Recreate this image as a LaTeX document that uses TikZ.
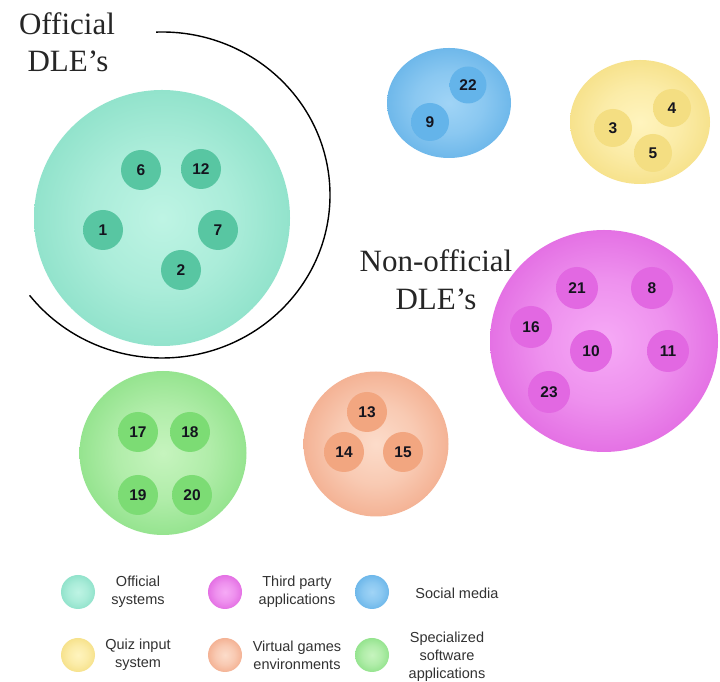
\documentclass[tikz,border=0pt]{standalone}
\usepackage{fontspec}
\setmainfont{Liberation Serif}
\setsansfont{Liberation Sans}
\usetikzlibrary{shapes.geometric}

% colours
\definecolor{tealC}{RGB}{190,244,228}
\definecolor{tealE}{RGB}{92,206,174}
\definecolor{tealSC}{RGB}{88,198,162}
\definecolor{tealSE}{RGB}{62,176,140}
\definecolor{blueC}{RGB}{160,212,246}
\definecolor{blueE}{RGB}{50,150,220}
\definecolor{blueSC}{RGB}{100,180,234}
\definecolor{blueSE}{RGB}{62,150,212}
\definecolor{yelC}{RGB}{255,244,190}
\definecolor{yelE}{RGB}{236,204,80}
\definecolor{yelSC}{RGB}{244,222,130}
\definecolor{yelSE}{RGB}{230,198,90}
\definecolor{magC}{RGB}{246,170,246}
\definecolor{magE}{RGB}{206,44,206}
\definecolor{magSC}{RGB}{226,104,226}
\definecolor{magSE}{RGB}{200,60,200}
\definecolor{orC}{RGB}{252,220,202}
\definecolor{orE}{RGB}{234,128,84}
\definecolor{orSC}{RGB}{242,166,128}
\definecolor{orSE}{RGB}{228,136,96}
\definecolor{grC}{RGB}{198,244,190}
\definecolor{grE}{RGB}{90,208,86}
\definecolor{grSC}{RGB}{124,220,116}
\definecolor{grSE}{RGB}{92,198,86}
\definecolor{numtext}{RGB}{20,20,30}
\definecolor{legtext}{RGB}{50,50,50}

\newcommand{\mkbigball}[3]{\pgfdeclareradialshading{#1}{\pgfpoint{0bp}{0bp}}{color(0bp)=(#2); color(14bp)=(#2!80!#3); color(36bp)=(#2!30!#3); color(46bp)=(#3); color(50bp)=(#3!92!black)}}
\newcommand{\mksmallball}[3]{\pgfdeclareradialshading{#1}{\pgfpoint{0bp}{0bp}}{color(0bp)=(#2); color(30bp)=(#2); color(46bp)=(#3); color(50bp)=(#3!85!white)}}
\mkbigball{tealbig}{tealC}{tealE}
\mksmallball{tealsmall}{tealSC}{tealSE}
\mkbigball{bluebig}{blueC}{blueE}
\mksmallball{bluesmall}{blueSC}{blueSE}
\mkbigball{yelbig}{yelC}{yelE}
\mksmallball{yelsmall}{yelSC}{yelSE}
\mkbigball{magbig}{magC}{magE}
\mksmallball{magsmall}{magSC}{magSE}
\mkbigball{orbig}{orC}{orE}
\mksmallball{orsmall}{orSC}{orSE}
\mkbigball{grbig}{grC}{grE}
\mksmallball{grsmall}{grSC}{grSE}

\tikzset{
  bigball/.style={ellipse, inner sep=0pt, shade, shading=#1},
  num/.style={circle, inner sep=0pt, minimum size=40pt, shade, shading=#1,
    font=\sffamily\bfseries\fontsize{15.5}{15.5}\selectfont, text=numtext},
  legball/.style={circle, inner sep=0pt, minimum size=34pt, shade, shading=#1},
  legtxt/.style={align=center, font=\sffamily\fontsize{14.5}{18}\selectfont, text=legtext},
  biglabel/.style={anchor=base, font=\fontsize{31}{37}\selectfont, text=black!85},
  grouparc/.style={line width=1.4pt, black}
}

\begin{document}
\begin{tikzpicture}[x=1pt,y=1pt]
\useasboundingbox (0,0) rectangle (720,682);
\fill[white] (0,0) rectangle (720,682);

% Official systems
\node[bigball=tealbig, minimum width=256pt, minimum height=256pt] (off) at (162,464) {};
\node[num=tealsmall] (n6) at (141,512) {6};
\node[num=tealsmall] (n12) at (201,513) {12};
\node[num=tealsmall] (n1) at (103,452) {1};
\node[num=tealsmall] (n7) at (218,452) {7};
\node[num=tealsmall] (n2) at (181,412) {2};

% Official DLE's arc and label
\coordinate (arcc) at (162,487);
\draw[grouparc] (arcc) ++(92:168 and 163) arc[start angle=92, end angle=-142, x radius=168, y radius=163];
\node[biglabel] (offl1) at (67,647) {Official};
\node[biglabel] (offl2) at (68,610) {DLE’s};

% Social media
\node[bigball=bluebig, minimum width=124pt, minimum height=110pt] (soc) at (449,579) {};
\node[num=bluesmall, minimum size=37pt] (n22) at (468,597) {22};
\node[num=bluesmall, minimum size=38pt] (n9) at (430,560) {9};

% Quiz input system
\node[bigball=yelbig, minimum width=140pt, minimum height=124pt] (quiz) at (640,560) {};
\node[num=yelsmall, minimum size=38pt] (n4) at (672,574) {4};
\node[num=yelsmall, minimum size=38pt] (n3) at (613,554) {3};
\node[num=yelsmall, minimum size=38pt] (n5) at (653,529) {5};

% Third party applications
\node[bigball=magbig, minimum width=228pt, minimum height=222pt] (third) at (604,341) {};
\node[num=magsmall, minimum size=42pt] (n21) at (577,394) {21};
\node[num=magsmall, minimum size=42pt] (n8) at (652,394) {8};
\node[num=magsmall, minimum size=42pt] (n16) at (531,355) {16};
\node[num=magsmall, minimum size=42pt] (n10) at (591,331) {10};
\node[num=magsmall, minimum size=42pt] (n11) at (668,331) {11};
\node[num=magsmall, minimum size=42pt] (n23) at (549,290) {23};
\node[biglabel] (nonl1) at (436,410) {Non-official};
\node[biglabel] (nonl2) at (436,372) {DLE’s};

% Virtual games environments
\node[bigball=orbig, minimum width=145pt, minimum height=145pt] (games) at (376,238) {};
\node[num=orsmall] (n13) at (367,270) {13};
\node[num=orsmall] (n14) at (344,230) {14};
\node[num=orsmall] (n15) at (403,230) {15};

% Specialized software applications
\node[bigball=grbig, minimum width=167pt, minimum height=164pt] (spec) at (163,229) {};
\node[num=grsmall] (n17) at (138,250) {17};
\node[num=grsmall] (n18) at (190,250) {18};
\node[num=grsmall] (n19) at (138,187) {19};
\node[num=grsmall] (n20) at (192,187) {20};

% Legend
\node[legball=tealbig] (lg1) at (78,90) {};
\node[legtxt] (lt1) at (138,90) {Official\\systems};
\node[legball=magbig] (lg2) at (225,90) {};
\node[legtxt] (lt2) at (297,90) {Third party\\applications};
\node[legball=bluebig] (lg3) at (372,90) {};
\node[legtxt] (lt3) at (457,89) {Social media};
\node[legball=yelbig] (lg4) at (78,27) {};
\node[legtxt] (lt4) at (138,27) {Quiz input\\system};
\node[legball=orbig] (lg5) at (225,27) {};
\node[legtxt] (lt5) at (297,27) {Virtual games\\environments};
\node[legball=grbig] (lg6) at (372,27) {};
\node[legtxt] (lt6) at (447,25) {Specialized\\software\\applications};
\end{tikzpicture}
\end{document}
